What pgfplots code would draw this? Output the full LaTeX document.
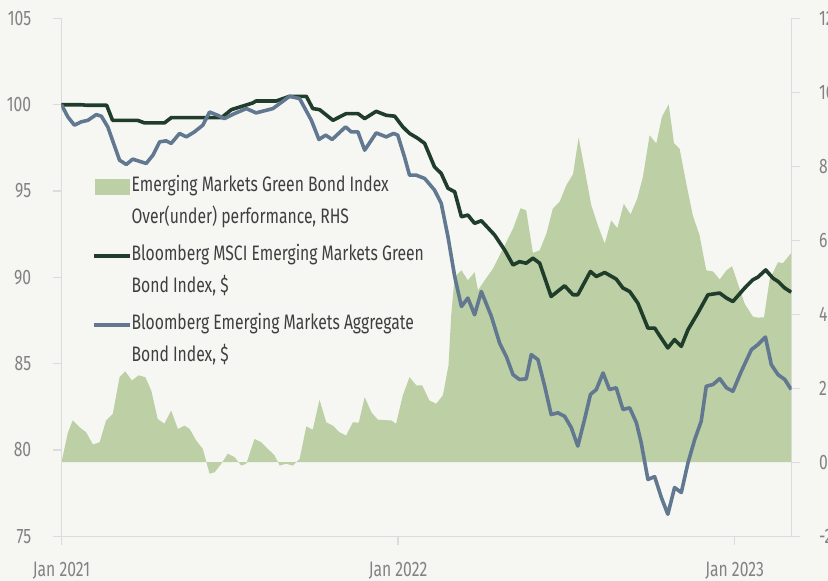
\documentclass[border=0pt]{standalone}
\usepackage{fontspec}
\setmainfont{Fira Sans}[FakeStretch=0.75]
\usepackage{pgfplots}
\pgfplotsset{compat=1.18}
\definecolor{bg}{HTML}{F6F7F3}
\definecolor{fillc}{HTML}{BCCFA5}
\definecolor{greenl}{HTML}{1F3D2A}
\definecolor{bluel}{HTML}{627891}
\definecolor{axc}{HTML}{DCDCDC}
\definecolor{tickc}{HTML}{828282}
\definecolor{legc}{HTML}{3F3F3F}
\begin{document}
\begin{tikzpicture}
\fill[bg] (-61.5bp,-44.8bp) rectangle (766.5bp,536.2bp);
\pgfplotsset{
  common/.style={
    width=730bp, height=517.7bp, scale only axis,
    xmin=0, xmax=26.03,
    axis line style={draw=axc, line width=1.3bp, -},
    tick style={draw=axc, line width=1.2bp},
    major tick length=8.5bp, tick align=outside,
    /pgf/number format/assume math mode=true,
    ticklabel style={font=\fontsize{21}{25}\selectfont, text=tickc},
  }
}
\begin{axis}[common, axis y line*=right, axis x line=none,
  ymin=-2, ymax=12, ytick={-2,0,...,12},
  yticklabel style={anchor=west, xshift=15.6bp}]
\addplot[fill=fillc, draw=none] coordinates {
(0,0)(0.23,0.81)(0.40,1.13)(0.64,0.95)(0.88,0.81)(1.12,0.48)(1.36,0.54)(1.59,1.13)(1.83,1.31)(2.07,2.30)(2.27,2.46)(2.51,2.21)(2.75,2.35)(2.99,2.30)(3.20,1.94)(3.43,1.17)(3.67,1.04)(3.91,1.40)(4.15,0.90)(4.39,0.99)(4.57,0.90)(4.80,0.59)(5.04,0.36)(5.28,-0.31)(5.46,-0.27)(5.70,-0.04)(5.93,0.23)(6.17,0.14)(6.41,-0.09)(6.59,-0.04)(6.88,0.63)(7.12,0.54)(7.36,0.36)(7.60,0.18)(7.78,-0.09)(8.01,-0.04)(8.25,-0.09)(8.49,0.09)(8.73,0.97)(8.96,0.88)(9.20,1.69)(9.44,1.08)(9.68,0.99)(9.91,0.81)(10.15,0.72)(10.39,1.08)(10.60,1.07)(10.81,1.76)(11.05,1.35)(11.28,1.15)(11.76,1.13)(11.93,1.04)(12.17,1.81)(12.41,2.30)(12.65,2.08)(12.86,2.08)(13.12,1.67)(13.36,1.58)(13.60,1.81)(13.80,2.62)(13.90,4.02)(14.02,5.01)(14.26,5.19)(14.49,4.92)(14.73,5.14)(14.85,4.65)(15.09,4.92)(15.38,5.23)(15.80,5.86)(16.10,6.32)(16.37,6.87)(16.57,6.81)(16.81,5.66)(17.05,5.73)(17.29,6.18)(17.52,6.86)(17.76,7.04)(18.00,7.49)(18.24,7.79)(18.44,8.78)(18.65,7.94)(18.89,6.95)(19.13,6.40)(19.37,5.91)(19.60,6.54)(19.82,6.33)(20.05,6.99)(20.29,6.70)(20.53,7.13)(20.73,7.71)(20.97,8.84)(21.21,8.62)(21.41,9.34)(21.65,9.68)(21.84,8.63)(22.04,8.48)(22.28,7.53)(22.51,6.68)(22.75,6.14)(22.99,5.19)(23.23,5.16)(23.47,4.94)(23.71,5.19)(23.91,5.30)(24.12,4.83)(24.36,4.29)(24.65,3.94)(24.83,3.91)(25.05,3.92)(25.25,4.94)(25.55,5.41)(25.72,5.38)(26.02,5.66)(26.02,0)
} \closedcycle;
\end{axis}
\begin{axis}[common, axis y line*=left, axis x line*=bottom,
  ymin=75, ymax=105, ytick={75,80,...,105},
  xtick={0,12,24}, xticklabels={Jan 2021,Jan 2022,Jan 2023},
  yticklabel style={anchor=east, xshift=-18.3bp},
  xticklabel style={anchor=north, yshift=-13.7bp},
  legend image code/.code={\draw[#1] (0bp,-16.5bp) -- (36bp,-16.5bp);},
  legend style={at={(axis description cs:0.0418,0.706)}, anchor=north west,
    draw=none, fill=none, inner sep=0pt, outer sep=0pt,
    row sep=14.6bp, column sep=0bp,
    font=\fontsize{21}{30}\selectfont,
    cells={anchor=north west},
    nodes={inner sep=0pt, outer sep=0pt, align=left, text=legc}},
  ]
\addlegendimage{legend image code/.code={\fill[fillc] (1bp,-23.3bp) rectangle (35bp,-8.3bp);}}
\addlegendentry{\strut Emerging Markets Green Bond Index\\[2bp]\strut Over(under) performance, RHS}
\addplot[greenl, line width=3.6bp, line join=round] coordinates {
(0,100.00)(0.71,100.00)(0.93,99.97)(1.61,99.97)(1.82,99.10)(2.71,99.10)(2.96,98.95)(3.67,98.95)(3.92,99.26)(5.71,99.26)(6.06,99.72)(6.81,100.10)(6.94,100.22)(7.66,100.22)(8.13,100.49)(8.73,100.49)(8.96,99.78)(9.20,99.72)(9.68,99.10)(10.15,99.49)(10.57,99.49)(10.81,99.20)(11.22,99.62)(11.58,99.39)(11.88,99.34)(12.17,98.72)(12.41,98.34)(12.71,98.05)(12.95,97.76)(13.30,96.40)(13.54,96.02)(13.78,95.16)(14.02,94.96)(14.26,93.51)(14.49,93.61)(14.73,93.13)(14.97,93.28)(15.44,92.46)(15.80,91.59)(16.10,90.72)(16.33,90.91)(16.57,90.82)(16.81,91.11)(17.05,90.82)(17.46,88.89)(17.94,89.51)(18.24,88.99)(18.41,88.99)(18.86,90.34)(19.07,90.05)(19.37,90.28)(19.78,89.90)(20.02,89.38)(20.26,89.18)(20.55,88.51)(20.91,87.06)(21.15,87.06)(21.62,85.91)(21.86,86.39)(22.10,86.00)(22.34,86.97)(22.69,87.93)(23.05,88.99)(23.47,89.09)(23.71,88.80)(23.94,88.60)(24.36,89.38)(24.65,89.86)(24.83,90.01)(25.11,90.43)(25.37,89.95)(25.55,89.76)(25.79,89.38)(26.02,89.14)
};
\addlegendentry{\strut Bloomberg MSCI Emerging Markets Green\\[2bp]\strut Bond Index, \$}
\addplot[bluel, line width=3.6bp, line join=round] coordinates {
(0,100.00)(0.23,99.29)(0.46,98.82)(0.70,99.01)(0.94,99.10)(1.24,99.43)(1.42,99.34)(1.65,98.72)(2.07,96.79)(2.31,96.54)(2.54,96.85)(3.02,96.60)(3.26,97.08)(3.50,97.85)(3.73,97.91)(3.91,97.76)(4.21,98.34)(4.45,98.14)(4.74,98.43)(5.04,98.82)(5.28,99.58)(5.57,99.39)(5.81,99.20)(6.17,99.49)(6.59,99.78)(6.94,99.53)(7.54,99.78)(8.13,100.49)(8.49,100.36)(8.91,99.10)(9.18,97.99)(9.42,98.24)(9.65,97.99)(10.13,98.72)(10.33,98.43)(10.57,98.43)(10.81,97.37)(11.22,98.37)(11.58,98.14)(11.84,98.34)(11.99,98.24)(12.23,96.98)(12.41,95.92)(12.65,95.92)(12.95,95.73)(13.30,95.06)(13.54,94.29)(13.78,92.36)(14.02,90.05)(14.26,88.31)(14.49,88.80)(14.73,87.83)(14.97,89.18)(15.33,87.73)(15.62,86.20)(15.86,85.42)(16.10,84.36)(16.33,84.08)(16.57,84.12)(16.75,85.52)(16.99,85.23)(17.23,83.69)(17.46,82.05)(17.70,82.15)(17.94,81.95)(18.18,81.28)(18.41,80.22)(18.65,81.76)(18.86,83.21)(19.07,83.50)(19.31,84.46)(19.54,83.50)(19.78,83.60)(20.02,82.34)(20.26,82.44)(20.50,81.57)(20.67,80.42)(20.91,78.29)(21.15,78.45)(21.39,77.24)(21.62,76.27)(21.86,77.82)(22.10,77.53)(22.34,79.26)(22.58,80.61)(22.81,81.66)(22.99,83.69)(23.23,83.79)(23.47,84.13)(23.71,83.60)(23.94,83.40)(24.24,84.55)(24.60,85.81)(24.83,86.10)(25.10,86.54)(25.31,84.94)(25.55,84.36)(25.79,84.08)(26.02,83.50)
};
\addlegendentry{\strut Bloomberg Emerging Markets Aggregate\\[2bp]\strut Bond Index, \$}
\end{axis}
\pgfresetboundingbox
\path[use as bounding box] (-61.5bp,-44.8bp) rectangle (766.5bp,536.2bp);
\end{tikzpicture}
\end{document}
